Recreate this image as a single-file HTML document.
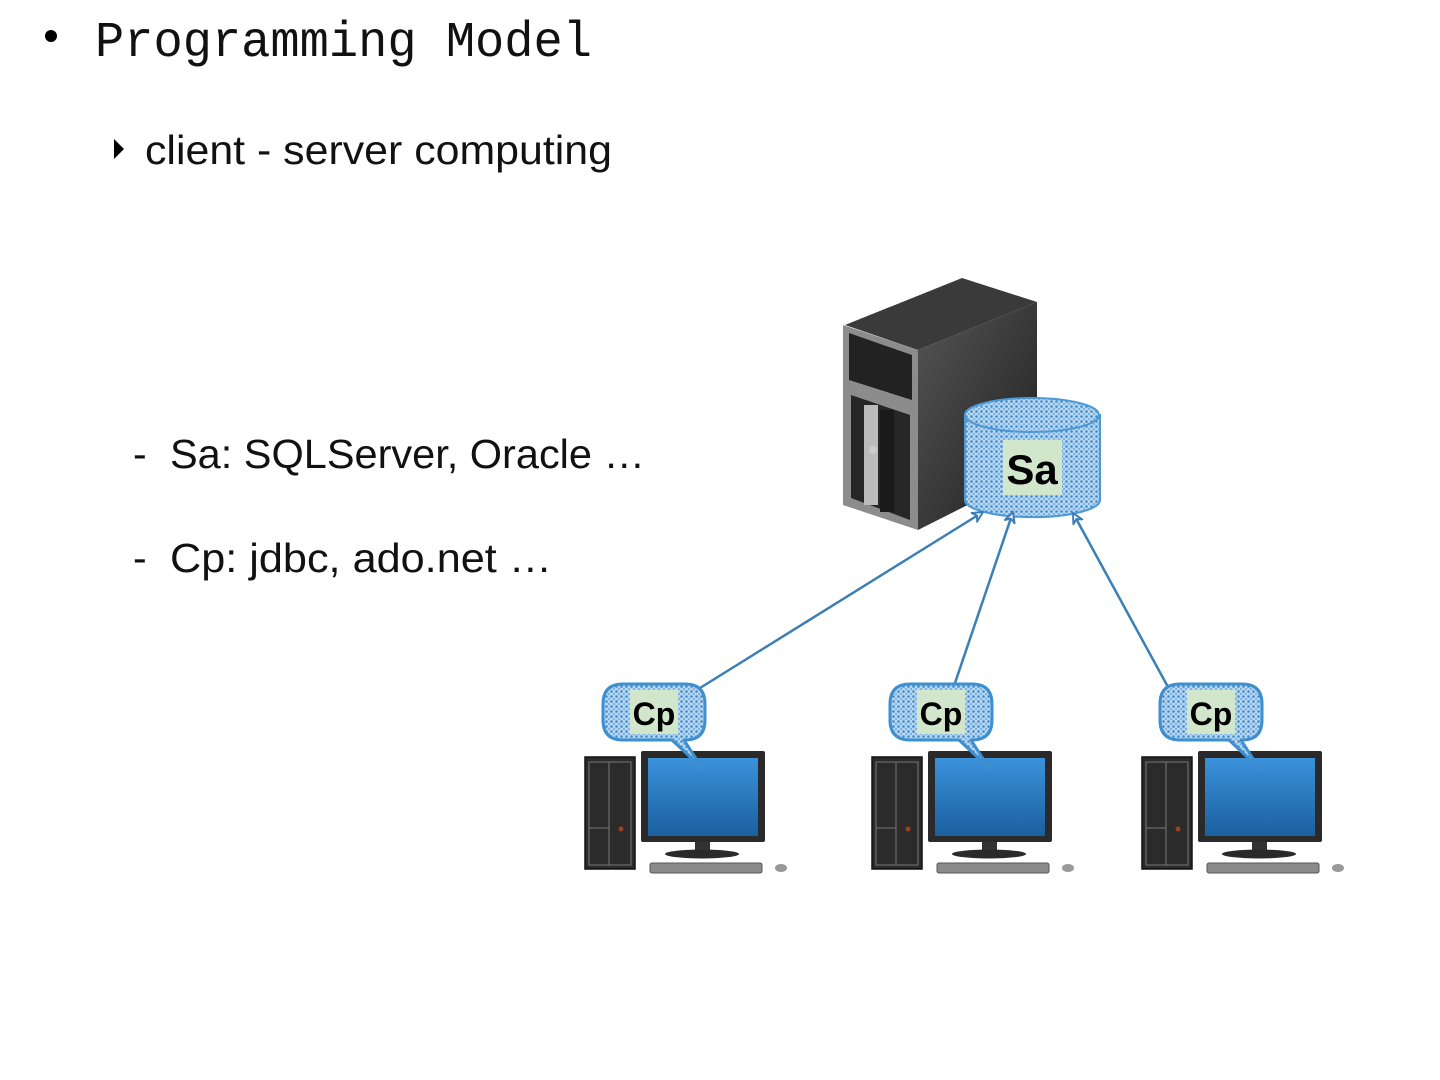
<!DOCTYPE html>
<html><head><meta charset="utf-8"><style>
html,body{margin:0;padding:0;background:#fff;}
svg{display:block;}
</style></head><body>
<svg width="1440" height="1080" viewBox="0 0 1440 1080" xmlns="http://www.w3.org/2000/svg">
<defs>
<pattern id="dots" width="5" height="5" patternUnits="userSpaceOnUse">
<rect width="5" height="5" fill="#b9d6ef"/>
<circle cx="1.5" cy="1.5" r="1.3" fill="#3f8cd0"/>
<circle cx="4" cy="4" r="1" fill="#6aa8de"/>
</pattern>
<linearGradient id="scr" x1="0" y1="0" x2="0" y2="1">
<stop offset="0" stop-color="#3b93dc"/><stop offset="1" stop-color="#1b5f9e"/>
</linearGradient>
<linearGradient id="side" x1="0" y1="0" x2="1" y2="1">
<stop offset="0" stop-color="#555"/><stop offset="1" stop-color="#1e1e1e"/>
</linearGradient>
<marker id="ah" viewBox="0 0 12 12" refX="11" refY="6" markerWidth="12" markerHeight="12" markerUnits="userSpaceOnUse" orient="auto">
<path d="M1,1 L11,6 L1,11 L4,6 Z" fill="#fff" stroke="#3a7fb5" stroke-width="2"/>
</marker>
<g id="client">
<rect x="585" y="757" width="50" height="112" fill="#2b2b2b" stroke="#111" stroke-width="1.5"/>
<rect x="589" y="762" width="42" height="103" fill="none" stroke="#777" stroke-width="1"/>
<line x1="609" y1="762" x2="609" y2="865" stroke="#777" stroke-width="1"/>
<line x1="589" y1="828" x2="609" y2="828" stroke="#777" stroke-width="1"/>
<circle cx="621" cy="829" r="2.5" fill="#a04020"/>
<rect x="641" y="751" width="124" height="91" fill="#2a2a2a" rx="2"/>
<rect x="648" y="758" width="110" height="78" fill="url(#scr)"/>
<rect x="695" y="842" width="15" height="11" fill="#333"/>
<ellipse cx="702" cy="854" rx="37" ry="4.5" fill="#2a2a2a"/>
<rect x="650" y="863" width="112" height="10" rx="2" fill="#8a8a8a" stroke="#555" stroke-width="1"/>
<ellipse cx="781" cy="868" rx="6" ry="4" fill="#999"/>
<path d="M623,684 H685 Q705,684 705,704 V720 Q705,740 685,740 H684 L702,768 L672,740 H623 Q603,740 603,720 V704 Q603,684 623,684 Z" fill="url(#dots)" stroke="#3d8fcf" stroke-width="3" stroke-linejoin="round"/>
<rect x="630" y="690" width="48" height="44" fill="#d2e6cc"/>
</g>
</defs>

<!-- text -->
<circle cx="51" cy="36" r="6" fill="#000"/>
<text x="95" y="56" font-family="Liberation Mono, monospace" font-size="50" textLength="497" lengthAdjust="spacingAndGlyphs" fill="#111">Programming Model</text>
<path d="M114,139 L124,149 L114,159 Z" fill="#000"/>
<text x="145" y="164" font-family="Liberation Sans, sans-serif" font-size="41" textLength="467" lengthAdjust="spacingAndGlyphs" fill="#111">client - server computing</text>
<text x="133" y="468" font-family="Liberation Sans, sans-serif" font-size="41" fill="#111">-</text>
<text x="170" y="468" font-family="Liberation Sans, sans-serif" font-size="41" textLength="475" lengthAdjust="spacingAndGlyphs" fill="#111">Sa: SQLServer, Oracle …</text>
<text x="133" y="572" font-family="Liberation Sans, sans-serif" font-size="41" fill="#111">-</text>
<text x="170" y="572" font-family="Liberation Sans, sans-serif" font-size="41" textLength="382" lengthAdjust="spacingAndGlyphs" fill="#111">Cp: jdbc, ado.net …</text>

<!-- server -->
<polygon points="845,325 962,278 1037,302 918,350" fill="#3a3a3a"/>
<polygon points="918,350 1037,302 1037,470 918,530" fill="url(#side)"/>
<polygon points="843,325 918,350 918,530 843,505" fill="#8c8c8c"/>
<polygon points="849,333 912,355 912,400 849,380" fill="#222"/>
<polygon points="851,395 910,415 910,520 851,498" fill="#262626"/>
<rect x="864" y="405" width="14" height="100" fill="#bbb"/>
<rect x="880" y="410" width="14" height="102" fill="#1a1a1a"/>
<circle cx="873" cy="450" r="4" fill="#ccc"/>

<!-- cylinder -->
<path d="M965,415 V500 A67,17 0 0 0 1100,500 V415 Z" fill="url(#dots)" stroke="#4f98d6" stroke-width="2"/>
<ellipse cx="1032" cy="415" rx="67" ry="17" fill="url(#dots)" stroke="#4f98d6" stroke-width="2"/>
<rect x="1003" y="440" width="59" height="55" fill="#d2e6cc"/>
<text x="1032" y="484" text-anchor="middle" font-family="Liberation Sans, sans-serif" font-weight="bold" font-size="42" fill="#000">Sa</text>

<!-- arrows -->
<g stroke="#3a7fb5" stroke-width="2.5" fill="none">
<line x1="700" y1="688" x2="983" y2="512" marker-end="url(#ah)"/>
<line x1="955" y1="683" x2="1013" y2="512" marker-end="url(#ah)"/>
<line x1="1168" y1="687" x2="1073" y2="513" marker-end="url(#ah)"/>
</g>

<!-- clients -->
<use href="#client"/>
<use href="#client" transform="translate(287,0)"/>
<use href="#client" transform="translate(557,0)"/>
<g font-family="Liberation Sans, sans-serif" font-weight="bold" font-size="32" fill="#000" text-anchor="middle">
<text x="654" y="725">Cp</text>
<text x="941" y="725">Cp</text>
<text x="1211" y="725">Cp</text>
</g>
</svg>
</body></html>
